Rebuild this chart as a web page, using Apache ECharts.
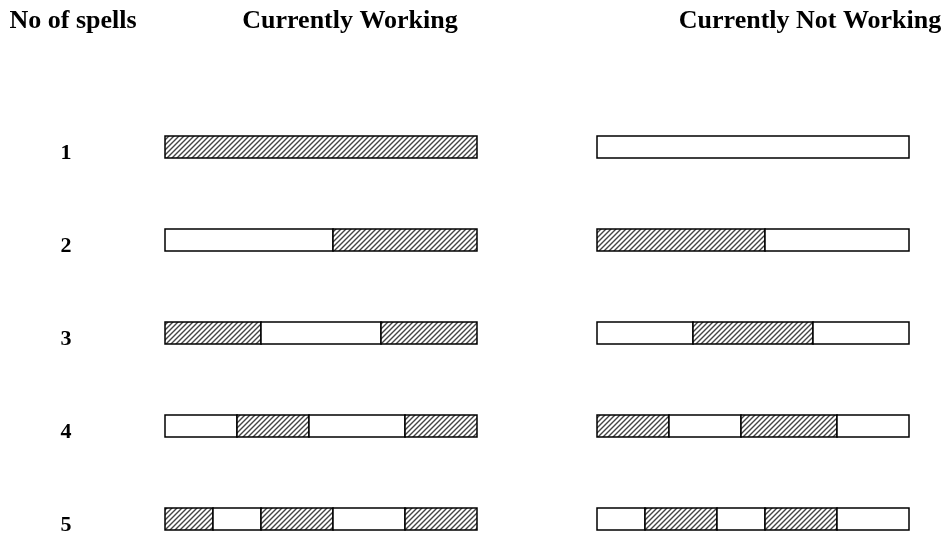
<!DOCTYPE html>
<html>
<head>
<meta charset="utf-8">
<script src="https://cdn.jsdelivr.net/npm/echarts@6/dist/echarts.min.js"></script>
<style>html,body{margin:0;padding:0;background:#fff}#c{width:950px;height:540px}</style>
</head>
<body>
<div id="c"></div>
<script>
// Row labels: number of spells
const spells = ['1', '2', '3', '4', '5'];
// Segment lengths (time units) per row, in order, alternating between states
const workingSegments = [[13], [7, 6], [4, 5, 4], [3, 3, 4, 3], [2, 2, 3, 3, 3]];
const notWorkingSegments = [[13], [7, 6], [4, 5, 4], [3, 3, 4, 3], [2, 3, 2, 3, 3]];
// Whether the first segment of each row is a working (hatched) spell: 1 = yes
const workingFirstHatched = [1, 0, 1, 0, 1];
const notWorkingFirstHatched = [0, 1, 0, 1, 0];
// Header texts
const headers = ['No of spells', 'Currently Working', 'Currently Not Working'];

function makeHatch() {
  const s = 5;
  const c = document.createElement('canvas');
  c.width = c.height = s;
  const g = c.getContext('2d');
  g.fillStyle = '#fff';
  g.fillRect(0, 0, s, s);
  g.strokeStyle = '#444';
  g.lineWidth = 1.4;
  g.beginPath();
  g.moveTo(-1, s + 1); g.lineTo(s + 1, -1);
  g.moveTo(-1, 1); g.lineTo(1, -1);
  g.moveTo(s - 1, s + 1); g.lineTo(s + 1, s - 1);
  g.stroke();
  return c;
}
const hatch = { image: makeHatch(), repeat: 'repeat' };

function buildData(segments, firstHatched) {
  const out = [];
  segments.forEach((segs, row) => {
    let start = 0;
    segs.forEach((len, k) => {
      const hatched = firstHatched[row] ? (k % 2 === 0 ? 1 : 0) : (k % 2 === 0 ? 0 : 1);
      out.push([start, row, start + len, hatched]);
      start += len;
    });
  });
  return out;
}

const BAR_H = 22;
function renderItem(params, api) {
  const row = api.value(1);
  const p0 = api.coord([api.value(0), row]);
  const p1 = api.coord([api.value(2), row]);
  return {
    type: 'rect',
    shape: { x: p0[0], y: p0[1] - BAR_H / 2, width: p1[0] - p0[0], height: BAR_H },
    style: { fill: api.value(3) ? hatch : '#fff', stroke: '#000', lineWidth: 1.5 }
  };
}

const serif = '"Liberation Serif", "Times New Roman", serif';
const chart = echarts.init(document.getElementById('c'), null, { renderer: 'canvas' });
const total = 13;
const yBase = {
  type: 'category', data: spells, inverse: true, boundaryGap: false,
  axisLine: { show: false }, axisTick: { show: false }, splitLine: { show: false }
};
chart.setOption({
  animation: false,
  backgroundColor: '#fff',
  grid: [
    { left: 165, width: 312, top: 147, height: 372 },
    { left: 597, width: 312, top: 147, height: 372 }
  ],
  xAxis: [0, 1].map(i => ({ type: 'value', gridIndex: i, min: 0, max: total, show: false })),
  yAxis: [
    Object.assign({}, yBase, {
      gridIndex: 0,
      axisLabel: { show: true, margin: 99, align: 'center', verticalAlign: 'middle',
        formatter: '{n|{value}}',
        rich: { n: { padding: [12, 0, 0, 0], fontSize: 22, fontWeight: 'bold', fontFamily: serif, color: '#000' } },
        fontSize: 22, fontWeight: 'bold', fontFamily: serif, color: '#000' }
    }),
    Object.assign({}, yBase, { gridIndex: 1, axisLabel: { show: false } })
  ],
  graphic: [
    { type: 'text', x: 73, y: 21, style: { text: headers[0], align: 'center', verticalAlign: 'middle', font: 'bold 26px ' + serif, fill: '#000' } },
    { type: 'text', x: 350, y: 21, style: { text: headers[1], align: 'center', verticalAlign: 'middle', font: 'bold 26px ' + serif, fill: '#000' } },
    { type: 'text', x: 810, y: 21, style: { text: headers[2], align: 'center', verticalAlign: 'middle', font: 'bold 26px ' + serif, fill: '#000' } }
  ],
  series: [
    { type: 'custom', xAxisIndex: 0, yAxisIndex: 0, encode: { x: [0, 2], y: 1 },
      renderItem, data: buildData(workingSegments, workingFirstHatched) },
    { type: 'custom', xAxisIndex: 1, yAxisIndex: 1, encode: { x: [0, 2], y: 1 },
      renderItem, data: buildData(notWorkingSegments, notWorkingFirstHatched) }
  ]
});
</script>
</body>
</html>
